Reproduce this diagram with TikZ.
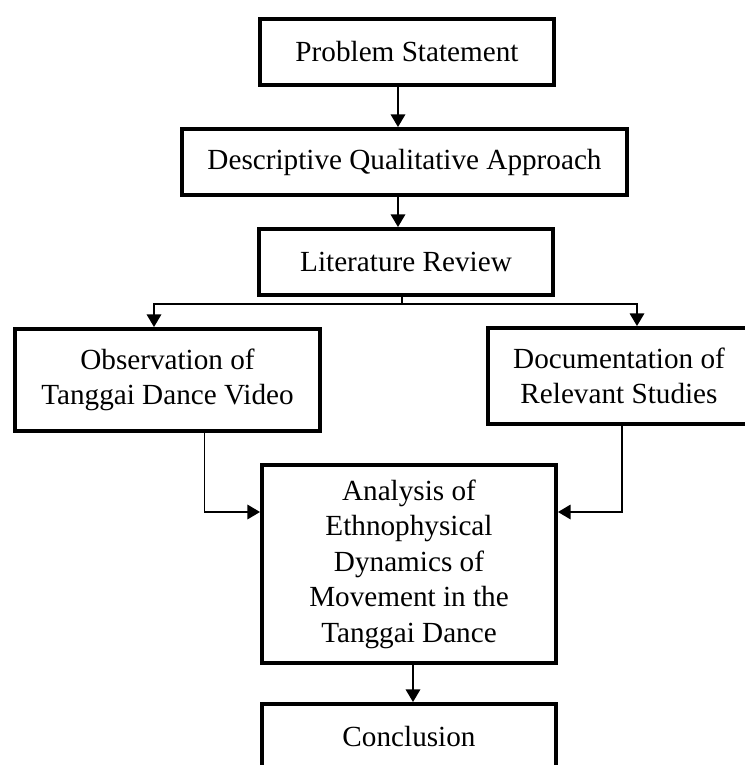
\documentclass[tikz,border=0pt]{standalone}
\usepackage{fontspec}
\setmainfont{Liberation Serif}
\usetikzlibrary{arrows.meta}
\begin{document}
\begin{tikzpicture}[x=0.5pt,y=-0.5pt,
                box/.style={draw,line width=2pt,align=center,inner sep=0pt,font=\fontsize{14.6}{17.75}\selectfont},
                arr/.style={line width=0.65pt,-{Triangle[width=7.3pt,length=6.3pt]}}]
                \useasboundingbox (0,0) rectangle (744,765);
                %cajas
                \node[box,minimum width=147pt,minimum height=33pt] (problem) at (407,52) {Problem Statement};
                \node[box,minimum width=222.5pt,minimum height=33pt] (descriptive) at (404.5,162) {Descriptive Qualitative Approach};
                \node[box,minimum width=147pt,minimum height=33pt] (literature) at (406,262) {Literature Review};
                \node[box,minimum width=152.5pt,minimum height=51pt] (observation) at (167.5,380) {Observation of\\Tanggai Dance Video};
                \node[box,minimum width=131.5pt,minimum height=48pt] (documentation) at (619,376) {Documentation of\\Relevant Studies};
                \node[box,minimum width=147pt,minimum height=99pt] (analysis) at (409,564) {Analysis of\\Ethnophysical\\Dynamics of\\Movement in the\\Tanggai Dance};
                \node[box,minimum width=147pt,minimum height=33pt] (conclusion) at (409,737) {Conclusion};
                %flechas
                \coordinate (p1) at ([xshift=-4.5pt]problem.south);
                \draw[arr] (p1) -- (p1 |- descriptive.north);
                \coordinate (d1) at ([xshift=-3.25pt]descriptive.south);
                \draw[arr] (d1) -- (d1 |- literature.north);
                \coordinate (split) at (402,304);
                \draw[line width=0.65pt] (literature.south -| split) -- (split);
                \draw[arr] (split) -| ([xshift=-6.75pt]observation.north);
                \draw[arr] (split) -| ([xshift=9pt]documentation.north);
                \draw[arr] ([xshift=18.5pt]observation.south) |- ([yshift=26pt]analysis.west);
                \draw[arr] ([xshift=1.5pt]documentation.south) |- ([yshift=26pt]analysis.east);
                \coordinate (a1) at ([xshift=2pt]analysis.south);
                \draw[arr] (a1) -- (a1 |- conclusion.north);
\end{tikzpicture}
\end{document}
